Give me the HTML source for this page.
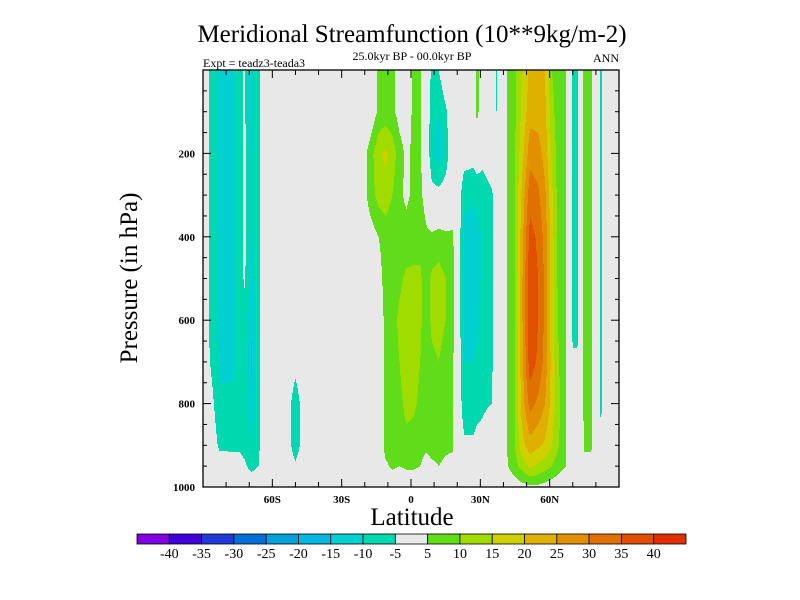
<!DOCTYPE html>
<html><head><meta charset="utf-8"><style>
body{margin:0;background:#fff;}
svg{display:block;font-family:"Liberation Serif",serif;}
</style></head><body>
<svg id="chart" width="800" height="600" viewBox="0 0 800 600" xmlns="http://www.w3.org/2000/svg">
<rect x="0" y="0" width="800" height="600" fill="#fff"/>
<text x="412" y="42" font-size="25" text-anchor="middle">Meridional Streamfunction (10**9kg/m-2)</text>
<text x="412" y="60" font-size="12" text-anchor="middle">25.0kyr BP - 00.0kyr BP</text>
<text x="203" y="67" font-size="12">Expt = teadz3-teada3</text>
<text x="619" y="62" font-size="12" text-anchor="end">ANN</text>
<g id="field"></g>
<g id="axes"></g>
<text x="0" y="0" font-size="25" text-anchor="middle" transform="translate(137,278) rotate(-90)">Pressure (in hPa)</text>
<text x="412" y="525" font-size="25" text-anchor="middle">Latitude</text>
<g id="colorbar"></g>
</svg>
<script>
const levels = [-40,-35,-30,-25,-20,-15,-10,-5,5,10,15,20,25,30,35,40];
const levelLabels = ["-40","-35","-30","-25","-20","-15","-10","-5","5","10","15","20","25","30","35","40"];
const colors = ["#8000e0","#4000d8","#2038d8","#0070d8","#00a0d8","#00b8e0","#00d0d0","#00d8b0","#e8e8e8","#60dc18","#a0dc00","#d0d000","#e0b000","#e09000","#e07000","#e05000","#e03000"];
const pressures = [0,100,200,300,400,500,600,700,800,900,950,1000];
const lats = [-90,-87,-83,-77,-74,-72,-69,-66,-64,-55,-50,-45,-22,-18,-14,-11,-8,-5,-2,1,4,6.5,9,12,15,18,20,23,27,28.5,31,35,37,39,42,45,48,51.5,55,58,61,64,67,68.5,70,72,73.5,75,78,79.5,81.2,81.8,82.4,83,90];
const values = [
[0,0,0,0,0,0,0,0,0,0,0,0],
[-6,-6,-6,-6,-6,-6,-6,-5,-2,0,0,0],
[-11,-11,-11,-11,-11,-11,-11,-11,-9,-6,-2,0],
[-11,-11,-11,-11,-11,-11,-11,-11,-9,-6,-3,0],
[-8,-8,-8,-8,-8,-8,-8,-8,-8,-6,-3,0],
[-4,-4,-4,-4,-4,-4,-8,-8,-8,-7,-4,0],
[-12,-12,-11,-11,-11,-12,-14,-16,-13,-9,-7,0],
[-7,-7,-7,-7,-7,-7,-7,-7,-7,-7,-5,0],
[0,0,0,0,0,0,0,0,0,0,0,0],
[0,0,0,0,0,0,0,0,0,0,0,0],
[0,0,0,0,0,0,0,-3,-8,-8,-4,0],
[0,0,0,0,0,0,0,0,0,0,0,0],
[0,0,0,0,0,0,0,0,0,0,0,0],
[0,0,7,7,2,0,0,0,0,0,0,0],
[6,6,14,12,5,3,0,0,0,0,0,0],
[7,7,16,13,7,7,7,7,7,7,4,0],
[6,6,13,10,6,7,8,8,8,7,6,0],
[3,3,7,6,7,9,11,10,9,8,5,0],
[2,2,4,4,7,11,12,12,11,9,6,0],
[6,6,6,6,8,11,12,12,11,8,6,0],
[6,6,6,6,8,11,11,10,9,7,5,0],
[0,0,0,3,6,7,7,7,7,6,3,0],
[-6,-8,-9,-3,6,11,11,9,8,7,4,0],
[-5,-10,-13,-3,7,12,12,10,8,7,5,0],
[0,-6,-8,-2,6,10,10,8,7,6,4,0],
[0,0,0,0,6,7,7,6,6,6,3,0],
[0,0,0,0,0,0,0,0,0,0,0,0],
[0,0,-2,-9,-11,-12,-11,-10,-8,-4,0,0],
[0,0,-3,-9,-13,-13,-12,-10,-8,-4,0,0],
[7,7,-2,-8,-12,-12,-11,-9,-7,-3,0,0],
[0,0,-3,-8,-9,-9,-8,-7,-6,-3,0,0],
[0,0,0,-6,-6,-6,-6,-6,-5,0,0,0],
[-6,-5,0,0,0,0,0,0,0,0,0,0],
[0,0,0,0,0,0,0,0,0,0,0,0],
[6,6,6,6,6,6,6,6,6,6,5,1],
[9,9,10,10,10,10,10,10,10,10,8,2],
[15,16,18,21,23,24,24,23,22,18,12,3],
[21,23,28,33,37,39,39,38,32,23,16,4],
[22,23,27,31,34,35,35,34,29,21,14,4],
[20,21,23,26,28,29,29,28,25,19,12,3],
[10,12,14,16,17,17,17,18,18,15,10,2],
[6,6,7,7,8,8,9,10,11,10,7,1],
[5,5,5,5,5,5,6,6,6,6,5,1],
[0,0,0,0,0,0,0,0,0,0,0,0],
[-7,-7,-7,-7,-7,-7,-7,-4,0,0,0,0],
[-7,-7,-7,-7,-7,-7,-7,-4,0,0,0,0],
[0,0,0,0,0,0,0,0,0,0,0,0],
[7,7,7,7,7,7,7,7,7,6,3,0],
[7,7,7,7,7,7,7,7,7,6,3,0],
[0,0,0,0,0,0,0,0,0,0,0,0],
[0,0,0,0,0,0,0,0,0,0,0,0],
[-7,-7,-7,-7,-7,-7,-7,-7,-6,-3,0,0],
[-7,-7,-7,-7,-7,-7,-7,-7,-6,-3,0,0],
[0,0,0,0,0,0,0,0,0,0,0,0],
[0,0,0,0,0,0,0,0,0,0,0,0]
];
const latTicks = [-60,-30,0,30,60];
const latTickLabels = ["60S","30S","0","30N","60N"];
const presTicks = [200,400,600,800,1000];

const NS="http://www.w3.org/2000/svg";
const X0=203,X1=619,Y0=70,Y1=487;
const xScale = lat => X0 + (lat+90)/180*(X1-X0);
const yScale = p => Y0 + p/1000*(Y1-Y0);
const latOf = x => (x-X0)/(X1-X0)*180-90;
const presOf = y => (y-Y0)/(Y1-Y0)*1000;
function bracket(arr,v){let i=0;while(i<arr.length-2&&v>arr[i+1])i++;const t=Math.max(0,Math.min(1,(v-arr[i])/(arr[i+1]-arr[i])));return [i,t];}
function valueAt(lat,p){
  const [i,tx]=bracket(lats,lat);const [j,ty]=bracket(pressures,p);
  const a=values[i][j],b=values[i+1][j],c=values[i][j+1],d=values[i+1][j+1];
  return (a*(1-tx)+b*tx)*(1-ty)+(c*(1-tx)+d*tx)*ty;
}
function colorIdx(v){let k=0;while(k<levels.length&&v>=levels[k])k++;return k;}
const field=document.getElementById('field');
for(let x=X0;x<X1;x++){
  const lat=latOf(x+0.5);let start=Y0,cur=null;
  for(let y=Y0;y<=Y1;y++){
    const k = y<Y1 ? colorIdx(valueAt(lat,presOf(y+0.5))) : -1;
    if(cur===null){cur=k;start=y;continue;}
    if(k!==cur){
      const r=document.createElementNS(NS,'rect');
      r.setAttribute('x',x);r.setAttribute('y',start);r.setAttribute('width',1.2);r.setAttribute('height',y-start);
      r.setAttribute('fill',colors[cur]);
      
      
      field.appendChild(r);cur=k;start=y;
    }
  }
}
const axes=document.getElementById('axes');
function line(x1,y1,x2,y2,name,w){const l=document.createElementNS(NS,'line');l.setAttribute('x1',x1);l.setAttribute('y1',y1);l.setAttribute('x2',x2);l.setAttribute('y2',y2);l.setAttribute('stroke','#000');l.setAttribute('stroke-width',w||1);


axes.appendChild(l);}
function text(x,y,s,anchor,name){const t=document.createElementNS(NS,'text');t.setAttribute('x',x);t.setAttribute('y',y);t.setAttribute('font-size','11');t.setAttribute('font-weight','bold');t.setAttribute('text-anchor',anchor);t.textContent=s;


axes.appendChild(t);}
const fr=document.createElementNS(NS,'rect');fr.setAttribute('x',X0);fr.setAttribute('y',Y0);fr.setAttribute('width',X1-X0);fr.setAttribute('height',Y1-Y0);fr.setAttribute('fill','none');fr.setAttribute('stroke','#000');fr.setAttribute('stroke-width','1.3');


axes.appendChild(fr);
for(let p=50;p<=1000;p+=50){const y=yScale(p);const L=(p%200===0)?8:4;line(X0,y,X0+L,y,'y-tick');line(X1,y,X1-L,y,'y-tick');}
presTicks.forEach(p=>text(X0-8,yScale(p)+4,String(p),'end','y-tick-label'));
for(let lat=-80;lat<=80;lat+=10){const x=xScale(lat);const L=(lat%30===0)?8:5;line(x,Y1,x,Y1-L,'x-tick');line(x,Y0,x,Y0+L,'x-tick');}
latTicks.forEach((l,i)=>text(xScale(l),Y1+16,latTickLabels[i],'middle','x-tick-label'));
const cb=document.getElementById('colorbar');
const CB0=137,CB1=686,CBY=534,CBH=10,bw=(CB1-CB0)/colors.length;
colors.forEach((c,i)=>{const r=document.createElementNS(NS,'rect');r.setAttribute('x',CB0+i*bw);r.setAttribute('y',CBY);r.setAttribute('width',bw);r.setAttribute('height',CBH);r.setAttribute('fill',c);r.setAttribute('stroke','#000');r.setAttribute('stroke-width','0.8');


cb.appendChild(r);});
levelLabels.forEach((s,i)=>{const t=document.createElementNS(NS,'text');t.setAttribute('x',CB0+(i+1)*bw);t.setAttribute('y',CBY+24);t.setAttribute('font-size','14');t.setAttribute('text-anchor','middle');t.textContent=s;


cb.appendChild(t);});
</script>
</body></html>
